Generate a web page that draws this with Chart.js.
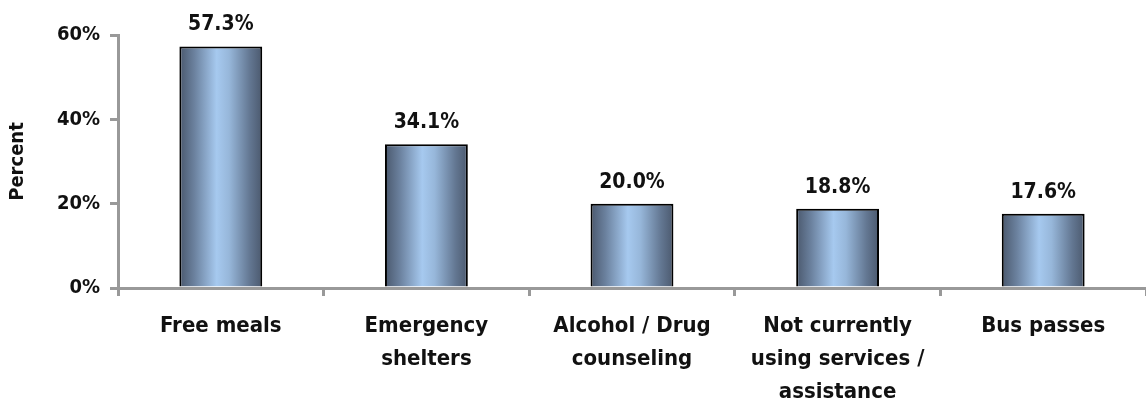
<!DOCTYPE html>
<html>
<head>
<meta charset="utf-8">
<script src="https://cdn.jsdelivr.net/npm/chart.js@4.4.1/dist/chart.umd.min.js"></script>
<style>
  html, body { margin: 0; padding: 0; background: #fff; }
  #wrap { width: 1146px; height: 403px; position: relative; }
</style>
</head>
<body>
<div id="wrap"><canvas id="chart"></canvas></div>
<script>
const categories = [
    'Free meals',
    ['Emergency', 'shelters'],
    ['Alcohol / Drug', 'counseling'],
    ['Not currently', 'using services /', 'assistance'],
    'Bus passes'
];
const percents = [57.3, 34.1, 20.0, 18.8, 17.6];
const yTicks = [0, 20, 40, 60];

const FONT = '"DejaVu Sans Condensed", "DejaVu Sans", sans-serif';
const BAR_PCT = 0.403;

// horizontal "cylinder" shading per bar
function barGradient(ctx) {
    const chart = ctx.chart;
    const x = chart.scales.x;
    if (!chart.chartArea || !x || ctx.dataIndex === undefined) return '#7f9cc0';
    const cx = x.getPixelForValue(ctx.dataIndex);
    const half = (x.width / categories.length) * BAR_PCT / 2;
    const g = chart.ctx.createLinearGradient(cx - half, 0, cx + half, 0);
    g.addColorStop(0, '#4a586d');
    g.addColorStop(0.18, '#6b819e');
    g.addColorStop(0.45, '#a6c9ef');
    g.addColorStop(0.6, '#97b7da');
    g.addColorStop(0.85, '#637792');
    g.addColorStop(1, '#4b596e');
    return g;
}

const valueLabels = {
    id: 'valueLabels',
    afterDatasetsDraw(chart) {
        const c = chart.ctx;
        const meta = chart.getDatasetMeta(0);
        c.save();
        c.font = 'bold 21px ' + FONT;
        c.fillStyle = '#111';
        c.textAlign = 'center';
        c.textBaseline = 'alphabetic';
        meta.data.forEach((bar, i) => {
            c.fillText(percents[i].toFixed(1) + '%', bar.x, bar.y - 16);
        });
        c.restore();
    }
};

new Chart(document.getElementById('chart').getContext('2d'), {
    type: 'bar',
    data: {
        labels: categories,
        datasets: [{
            data: percents,
            backgroundColor: barGradient,
            borderColor: '#000',
            borderWidth: 2,
            barPercentage: BAR_PCT,
            categoryPercentage: 1
        }]
    },
    options: {
        responsive: true,
        maintainAspectRatio: false,
        animation: false,
        layout: { padding: { top: 35, right: 0, left: 0, bottom: 0 } },
        plugins: { legend: { display: false }, tooltip: { enabled: false } },
        scales: {
            x: {
                afterFit: (s) => { s.height = 115; },
                grid: { display: true, drawOnChartArea: false, color: '#999', lineWidth: 3, tickLength: 8, offset: true },
                border: { color: '#999', width: 3 },
                ticks: {
                    color: '#111',
                    font: { family: FONT, size: 22, weight: 'bold', lineHeight: 1.5 },
                    maxRotation: 0,
                    autoSkip: false,
                    padding: 14
                }
            },
            y: {
                min: 0,
                max: 60,
                afterBuildTicks: (s) => { s.ticks = yTicks.map(v => ({ value: v })); },
                afterFit: (s) => { s.width = 118; },
                grid: { display: true, drawOnChartArea: false, color: '#999', lineWidth: 3, tickLength: 8 },
                border: { color: '#999', width: 3 },
                ticks: {
                    color: '#111',
                    font: { family: FONT, size: 20, weight: 'bold' },
                    padding: 10,
                    callback: v => v + '%'
                },
                title: {
                    display: true,
                    text: 'Percent',
                    color: '#111',
                    font: { family: FONT, size: 20, weight: 'bold' },
                    padding: { top: 6, bottom: 0 }
                }
            }
        }
    },
    plugins: [valueLabels]
});
</script>
</body>
</html>
